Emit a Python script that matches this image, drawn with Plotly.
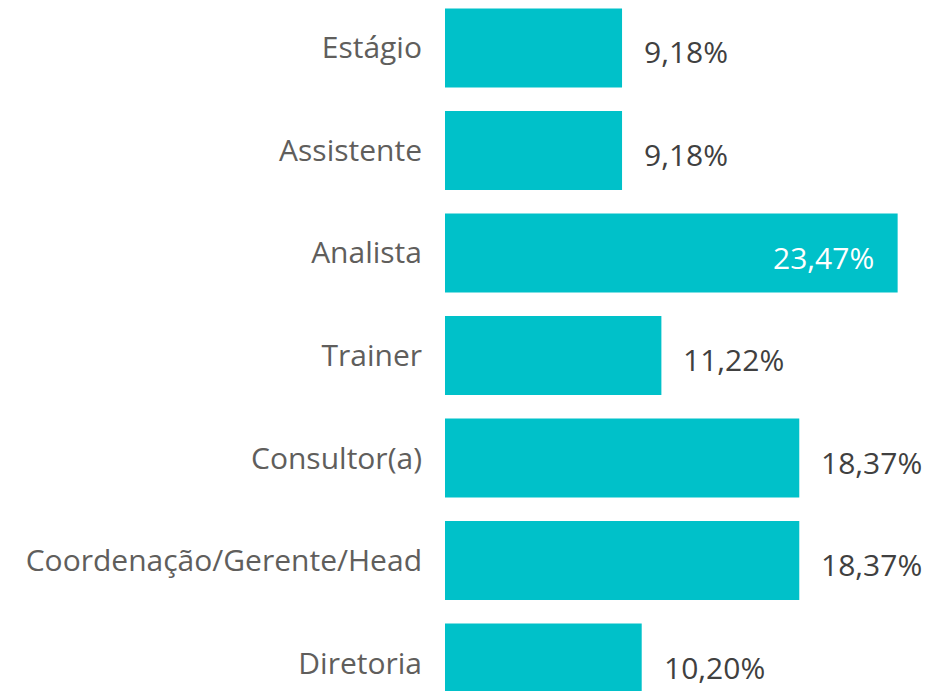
import plotly.graph_objects as go

categories = ['Estágio', 'Assistente', 'Analista', 'Trainer', 'Consultor(a)',
              'Coordenação/Gerente/Head', 'Diretoria']
values = [9.18, 9.18, 23.47, 11.22, 18.37, 18.37, 10.20]
labels = ['9,18%', '9,18%', '23,47%', '11,22%', '18,37%', '18,37%', '10,20%']
inside = [False, False, True, False, False, False, False]

BAR_COLOR = '#00C1C9'
FONT = 'Open Sans'

fig = go.Figure()
fig.add_trace(go.Bar(x=values, y=categories, orientation='h',
                     marker=dict(color=BAR_COLOR, line=dict(width=0)),
                     hoverinfo='skip'))

for cat, v, lab, ins in zip(categories, values, labels, inside):
    if ins:
        fig.add_annotation(x=v, y=cat, text=lab, showarrow=False, xanchor='right',
                           xshift=-22, yshift=-5, font=dict(family=FONT, size=30, color='white'))
    else:
        fig.add_annotation(x=v, y=cat, text=lab, showarrow=False, xanchor='left',
                           xshift=20, yshift=-4, font=dict(family=FONT, size=30, color='#404040'))

# page has an 8px body margin, so the figure is drawn 8px smaller and offset
fig.update_layout(width=923, height=683, margin=dict(l=437, r=0, t=0, b=0),
                  plot_bgcolor='white', paper_bgcolor='white', bargap=0.23,
                  showlegend=False,
                  xaxis=dict(range=[0, 25.2], visible=False, showgrid=False, zeroline=False),
                  yaxis=dict(type='category', categoryorder='array', categoryarray=categories,
                             range=[6.273, -0.39], showgrid=False, zeroline=False,
                             showline=False, ticks='', ticklabelstandoff=22,
                             tickfont=dict(family=FONT, size=30, color='#605E5C')))

fig.write_html("out.html")
